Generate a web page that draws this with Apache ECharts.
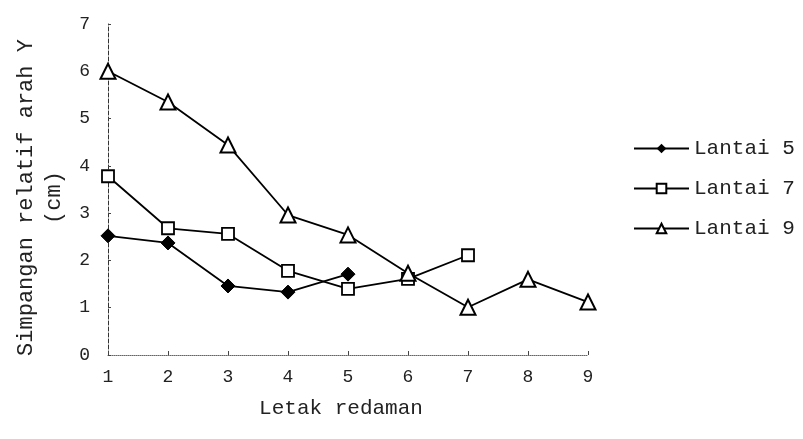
<!DOCTYPE html>
<html><head><meta charset="utf-8">
<script src="https://cdn.jsdelivr.net/npm/echarts@6/dist/echarts.min.js"></script>
<style>html,body{margin:0;padding:0;background:#fff}#c{width:803px;height:439px}</style>
</head><body><div id="c"></div>
<script>
const xValues = [1, 2, 3, 4, 5, 6, 7, 8, 9];
const lantai5 = [2.52, 2.37, 1.46, 1.33, 1.71];
const lantai7 = [3.78, 2.68, 2.56, 1.78, 1.40, 1.61, 2.11];
const lantai9 = [6.0, 5.35, 4.44, 2.96, 2.54, 1.73, 1.01, 1.60, 1.12];
const seriesNames = ['Lantai 5', 'Lantai 7', 'Lantai 9'];

const font = 'Liberation Mono, Courier New, monospace';
function pairs(arr){ return arr.map((v,i)=>[xValues[i], v]); }

const chart = echarts.init(document.getElementById('c'));
chart.setOption({
  animation: false,
  backgroundColor: '#fff',
  textStyle: {fontFamily: font, color: '#111'},
  grid: {left: 108, right: 215, top: 24, bottom: 84, outerBoundsMode: 'none', containLabel: false},
  legend: {
    orient: 'vertical', left: 628, top: 133, itemGap: 19,
    itemWidth: 55, itemHeight: 12,
    textStyle: {fontFamily: font, fontSize: 21, color: '#222'},
    data: seriesNames
  },
  xAxis: {
    type: 'value', min: 1, max: 9, interval: 1,
    name: 'Letak redaman', nameLocation: 'middle', nameGap: 43,
    nameTextStyle: {fontFamily: font, fontSize: 21, color: '#222', padding: [0, 14, 0, 0]},
    axisLine: {show: true, lineStyle: {color: '#666', type: 'dotted', width: 1}},
    axisTick: {show: true, inside: true, length: 4, lineStyle: {color: '#444'}},
    axisLabel: {fontFamily: font, fontSize: 18, color: '#222', margin: 13},
    splitLine: {show: false}
  },
  yAxis: {
    type: 'value', min: 0, max: 7, interval: 1,
    name: 'Simpangan relatif arah Y\n(cm)', nameLocation: 'middle', nameGap: 40,
    nameTextStyle: {fontFamily: font, fontSize: 22, color: '#222', lineHeight: 28, padding: [0, 16, 0, 0]},
    axisLine: {show: true, lineStyle: {color: '#333', type: 'dashed', width: 1}},
    axisTick: {show: true, inside: true, length: 3, lineStyle: {color: '#444'}},
    axisLabel: {fontFamily: font, fontSize: 18, color: '#222', margin: 18},
    splitLine: {show: false}
  },
  series: [
    {name: seriesNames[0], type: 'line', data: pairs(lantai5), symbol: 'diamond', symbolSize: 14,
     lineStyle: {color: '#000', width: 1.8}, itemStyle: {color: '#000', borderColor: '#000'}},
    {name: seriesNames[1], type: 'line', data: pairs(lantai7), symbol: 'rect', symbolSize: 12,
     lineStyle: {color: '#000', width: 1.8}, itemStyle: {color: '#fff', borderColor: '#000', borderWidth: 1.8}},
    {name: seriesNames[2], type: 'line', data: pairs(lantai9), symbol: 'triangle', symbolSize: 15,
     lineStyle: {color: '#000', width: 1.8}, itemStyle: {color: '#fff', borderColor: '#000', borderWidth: 2}}
  ]
});
</script></body></html>
